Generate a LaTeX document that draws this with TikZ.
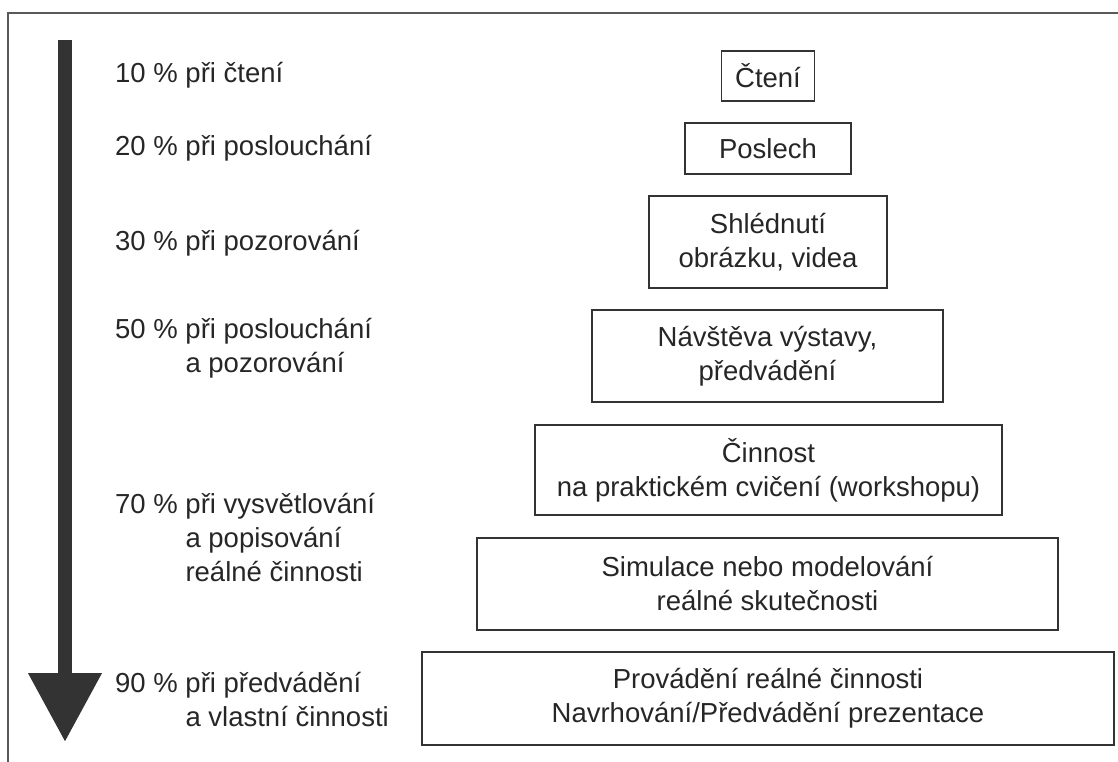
\documentclass[tikz,border=0pt]{standalone}
\usepackage{fontspec}
\setmainfont{Liberation Sans}
\usetikzlibrary{positioning,arrows.meta}
\tikzset{
  level/.style={draw=black!80, line width=1.6pt, align=center, inner sep=0pt, text=black!85},
  pct/.style={anchor=base west, inner sep=0pt, text=black!85},
}

\begin{document}
\begin{tikzpicture}[x=1pt, y=-1pt, font=\fontsize{27.5}{34}\selectfont]

             \useasboundingbox (0,0) rectangle (1118,762);
             \draw [black!65, line width=1.5pt] (8,762) -- (8,13) -- (1118,13);

             % pyramid of activities
             \node (cteni) [level, minimum width=93pt, minimum height=50pt] at (768,76) {Čtení};
             \node (poslech) [level, minimum width=166pt, minimum height=51pt] at (768,148.5) {Poslech};
             \node (shlednuti) [level, minimum width=238pt, minimum height=92pt] at (768,242) {Shlédnutí\\obrázku, videa};
             \node (navsteva) [level, minimum width=351pt, minimum height=92pt] at (767.5,356) {Návštěva výstavy,\\předvádění};
             \node (cinnost) [level, minimum width=467pt, minimum height=90pt] at (768.5,470) {Činnost\\na praktickém cvičení (workshopu)};
             \node (simulace) [level, minimum width=581pt, minimum height=92pt] at (767.5,584) {Simulace nebo modelování\\reálné skutečnosti};
             \node (provadeni) [level, minimum width=692pt, minimum height=93pt] at (768,698.5) {Provádění reálné činnosti\\Navrhování/Předvádění prezentace};

             % percentages
             \node (p10) [pct] at (115,83) {10 \% při čtení};
             \node (p20) [pct] at (115,156) {20 \% při poslouchání};
             \node (p30) [pct] at (115,250) {30 \% při pozorování};
             \node (p50) [pct] at (115,338) {\begin{tabular}[t]{@{}l@{ }l@{}}50 \% & při poslouchání\\ & a pozorování\end{tabular}};
             \node (p70) [pct] at (115,513) {\begin{tabular}[t]{@{}l@{ }l@{}}70 \% & při vysvětlování\\ & a popisování\\ & reálné činnosti\end{tabular}};
             \node (p90) [pct] at (115,692) {\begin{tabular}[t]{@{}l@{ }l@{}}90 \% & při předvádění\\ & a vlastní činnosti\end{tabular}};

             \coordinate (top) at (65,40);
             \coordinate (tip) at (65,742);
             \draw [black!80, line width=14pt, -{Triangle[width=70pt,length=69pt]}] (top) -- (tip);

          \end{tikzpicture}
\end{document}
